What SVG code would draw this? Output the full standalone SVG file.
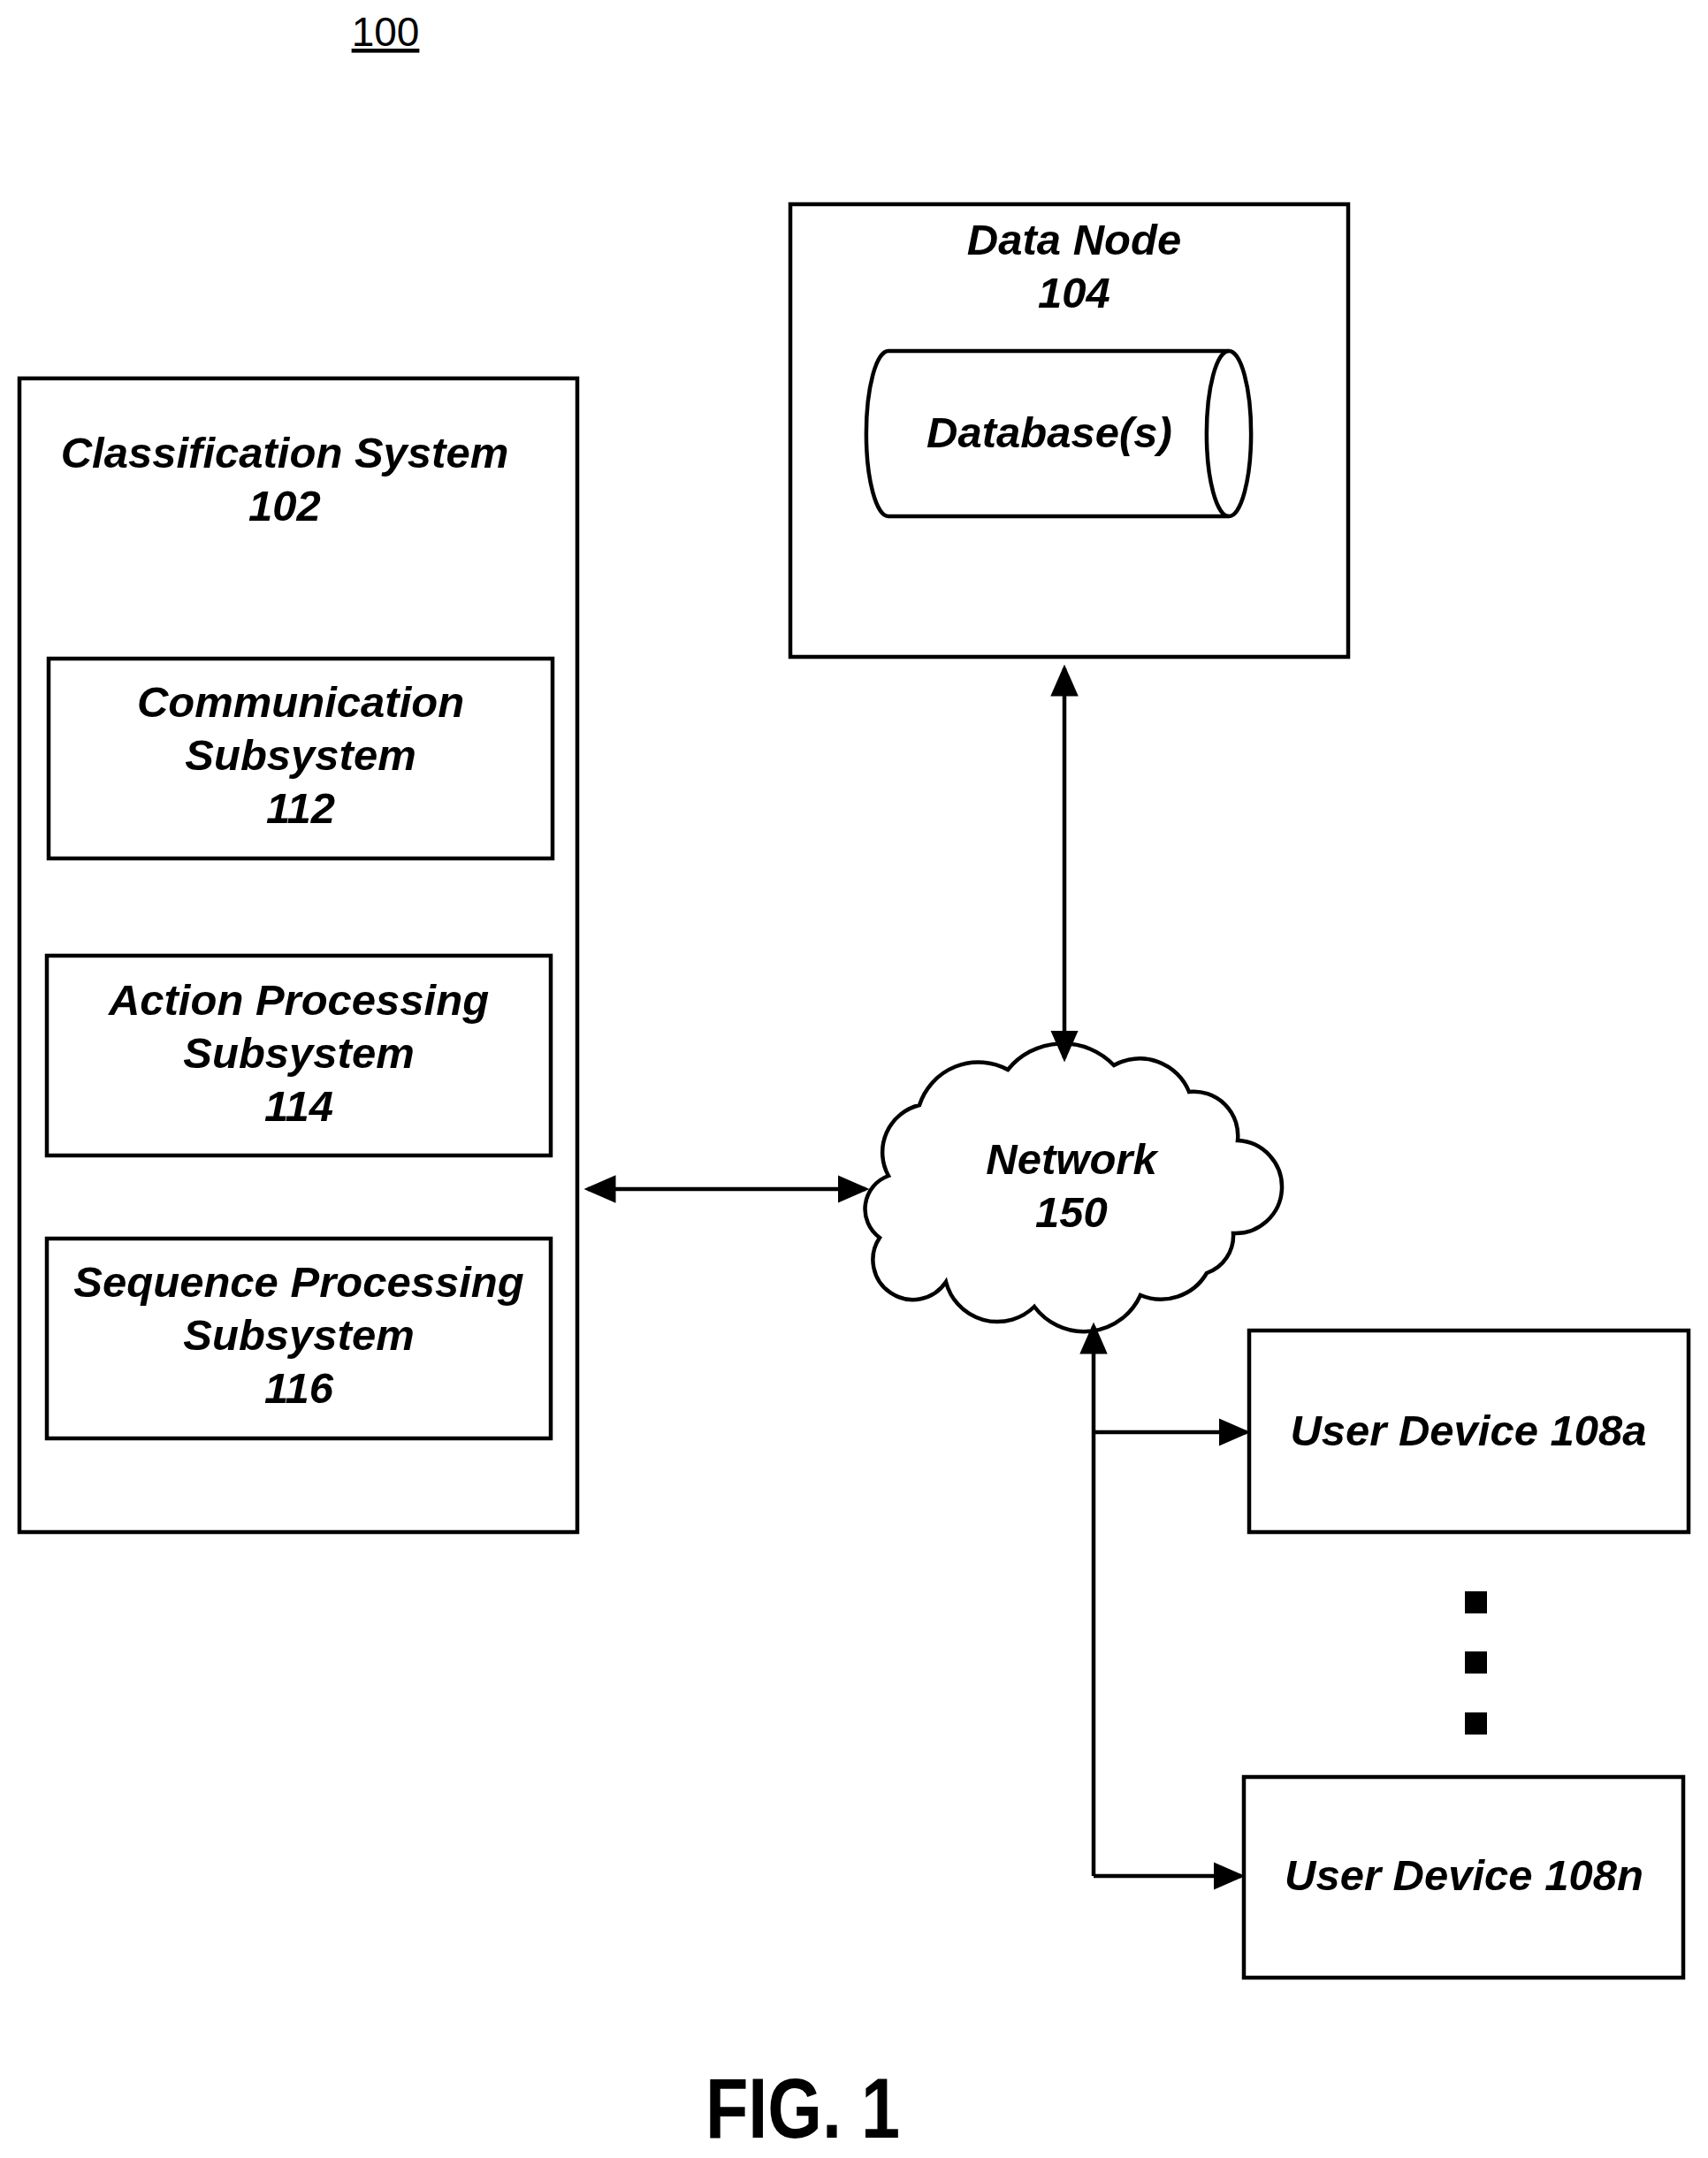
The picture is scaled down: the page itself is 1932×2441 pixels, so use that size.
<svg xmlns="http://www.w3.org/2000/svg" width="1932" height="2441" viewBox="0 0 1932 2441">
<style>
.b{fill:#fff;stroke:#000;stroke-width:4.5}
.t{font-family:"Liberation Sans",Arial,sans-serif;font-weight:bold;font-style:italic;font-size:49px;text-anchor:middle}
.c{fill:none;stroke:#000;stroke-width:4.5}
</style>
<defs><marker id="a" markerWidth="8" markerHeight="8" refX="7" refY="4" orient="auto-start-reverse" markerUnits="strokeWidth"><path d="M0,0.5 L8,4 L0,7.5z"/></marker></defs>
<rect width="1932" height="2441" fill="#fff"/>
<text x="436" y="52" font-family="Liberation Sans,Arial,sans-serif" font-size="46" text-anchor="middle" text-decoration="underline">100</text>
<g id="datanode"><rect class="b" x="894" y="231" width="631" height="512"/>
<text class="t" x="1215" y="288">Data Node</text><text class="t" x="1215" y="348">104</text></g>
<g id="database"><path class="b" d="M1005,397 H1390 A25,93 0 0 1 1390,584 H1005 A25,93 0 0 1 1005,397z"/><path class="c" d="M1390,397 A25,93 0 0 0 1390,584"/>
<text class="t" x="1187" y="506">Database(s)</text></g>
<g id="classification"><rect class="b" x="22" y="428" width="631" height="1305"/>
<text class="t" x="322" y="529">Classification System</text><text class="t" x="322" y="589">102</text></g>
<g id="comm"><rect class="b" x="55" y="745" width="570" height="226"/>
<text class="t" x="340" y="811">Communication</text><text class="t" x="340" y="871">Subsystem</text><text class="t" x="340" y="931">112</text></g>
<g id="action"><rect class="b" x="53" y="1081" width="570" height="226"/>
<text class="t" x="338" y="1148">Action Processing</text><text class="t" x="338" y="1208">Subsystem</text><text class="t" x="338" y="1268">114</text></g>
<g id="seq"><rect class="b" x="53" y="1401" width="570" height="226"/>
<text class="t" x="338" y="1467">Sequence Processing</text><text class="t" x="338" y="1527">Subsystem</text><text class="t" x="338" y="1587">116</text></g>
<g id="network"><path class="b" d="M1005,1330 A55,55 0 0 1 1040,1250 A70,70 0 0 1 1140,1210 A80,80 0 0 1 1260,1205 A60,60 0 0 1 1345,1235 A50,50 0 0 1 1400,1290 A50,50 0 0 1 1395,1395 A45,45 0 0 1 1365,1440 A60,60 0 0 1 1290,1465 A70,70 0 0 1 1170,1478 A60,60 0 0 1 1070,1450 A45,45 0 0 1 995,1400 A40,40 0 0 1 1005,1330z"/>
<text class="t" x="1212" y="1328">Network</text><text class="t" x="1212" y="1388">150</text></g>
<g id="dev-a"><rect class="b" x="1413" y="1505" width="497" height="228"/><text class="t" x="1661" y="1635">User Device 108a</text></g>
<g id="dev-n"><rect class="b" x="1407" y="2010" width="497" height="227"/><text class="t" x="1656" y="2138">User Device 108n</text></g>
<g id="dots"><rect x="1657" y="1800" width="25" height="25"/><rect x="1657" y="1868" width="25" height="25"/><rect x="1657" y="1937" width="25" height="25"/></g>
<g id="connectors">
<path class="c" d="M1204,756 V1197" marker-start="url(#a)" marker-end="url(#a)"/>
<path class="c" d="M665,1345 H979" marker-start="url(#a)" marker-end="url(#a)"/>
<path class="c" d="M1237,2122 V1500" marker-end="url(#a)"/>
<path class="c" d="M1237,1620 H1410" marker-end="url(#a)"/>
<path class="c" d="M1237,2122 H1404" marker-end="url(#a)"/>
</g>
<text x="908" y="2418" font-family="Liberation Sans,Arial,sans-serif" font-weight="bold" font-size="96" text-anchor="middle" textLength="220" lengthAdjust="spacingAndGlyphs">FIG. 1</text>
</svg>
